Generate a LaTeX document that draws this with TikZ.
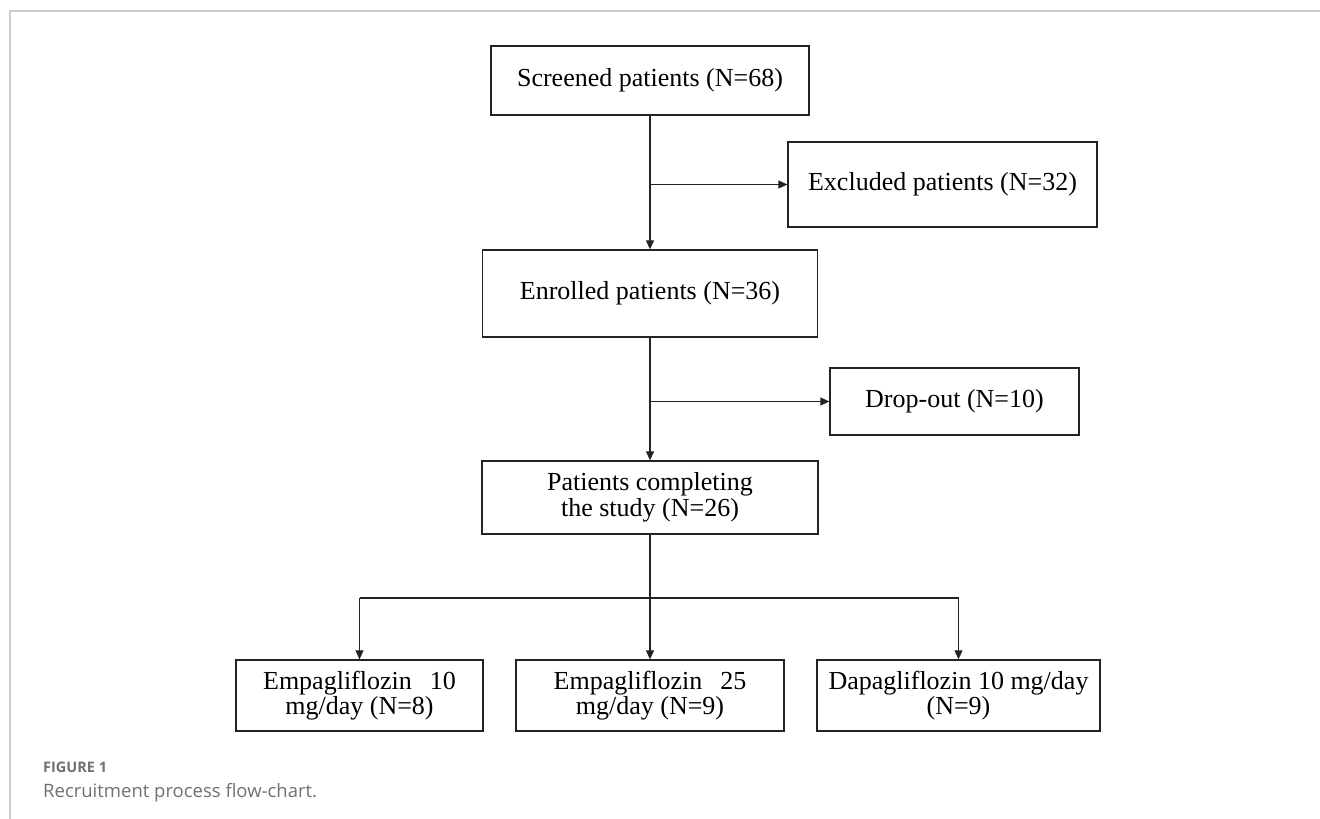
\documentclass[tikz,border=0pt]{standalone}
\usepackage{fontspec}
\setmainfont{Liberation Serif}
\newfontfamily\capfont{Open Sans}
\usetikzlibrary{arrows.meta}
\definecolor{frameg}{RGB}{205,205,205}
\definecolor{capg}{RGB}{112,112,112}
\definecolor{lineg}{RGB}{35,35,35}
\tikzset{
  box/.style={draw=lineg, line width=1.3pt, rectangle, inner sep=0pt, align=center,
    font=\fontsize{26}{25.5}\selectfont, text=black},
  conn/.style={draw=lineg, line width=1.1pt},
  arr/.style={conn, -{Triangle[length=9pt,width=8pt]}},
}
\begin{document}
\begin{tikzpicture}[x=1pt,y=-1pt]
\useasboundingbox (0,0) rectangle (1320,819);
% frame
\draw[frameg, line width=2pt] (9.5,819) -- (9.5,11) -- (1320,11);
% nodes
\node[box, minimum width=318, minimum height=69] (screened) at (650,80.5) {Screened patients (N=68)};
\node[box, minimum width=309, minimum height=85] (excluded) at (942.5,184.5) {Excluded patients (N=32)};
\node[box, minimum width=335, minimum height=87] (enrolled) at (650,293.5) {Enrolled patients (N=36)};
\node[box, minimum width=249, minimum height=67] (dropout) at (954.5,401.5) {Drop-out (N=10)};
\node[box, minimum width=336, minimum height=73] (completing) at (650,497.5) {Patients completing\\the study (N=26)};
\node[box, minimum width=247, minimum height=71] (emp10) at (359.5,695.5) {Empagliflozin\hspace{18pt}10\\mg/day (N=8)};
\node[box, minimum width=268, minimum height=71] (emp25) at (650,695.5) {Empagliflozin\hspace{18pt}25\\mg/day (N=9)};
\node[box, minimum width=283, minimum height=71] (dapa) at (958.5,695.5) {Dapagliflozin 10 mg/day\\(N=9)};
% connectors
\coordinate (s1) at (screened.south |- excluded.west);
\coordinate (s2) at (enrolled.south |- dropout.west);
\coordinate (br) at (650,598);
\draw[arr] (screened.south) -- (enrolled.north);
\draw[arr] (s1) -- (excluded.west);
\draw[arr] (enrolled.south) -- (completing.north);
\draw[arr] (s2) -- (dropout.west);
\draw[arr] (completing.south) -- (emp25.north);
\draw[conn] (emp10.north |- br) -- (dapa.north |- br);
\draw[arr] (emp10.north |- br) -- (emp10.north);
\draw[arr] (dapa.north |- br) -- (dapa.north);
% caption
\node[anchor=base west, inner sep=0pt, text=capg, font=\capfont\bfseries\fontsize{14.5}{16}\selectfont] (figlabel) at (43,772) {FIGURE 1};
\node[anchor=base west, inner sep=0pt, text=capg, font=\capfont\fontsize{18.5}{20}\selectfont] (figcap) at (43,797) {Recruitment process flow-chart.};
\end{tikzpicture}
\end{document}
